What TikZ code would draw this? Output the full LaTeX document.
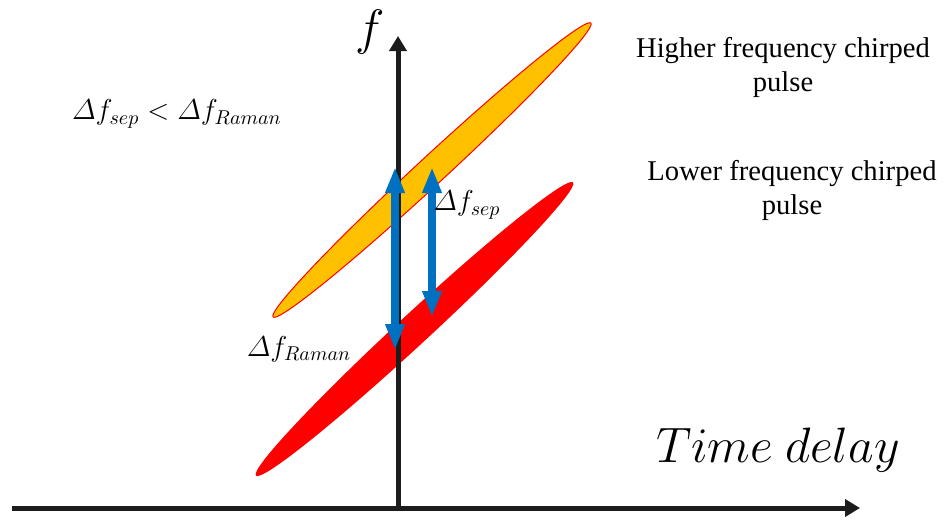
\documentclass[tikz,border=0pt]{standalone}
\usepackage{amsmath,amssymb}
\usepackage{fontspec}
\setmainfont{Liberation Serif}
\usetikzlibrary{arrows.meta,positioning}
\definecolor{pulseorange}{HTML}{FFC000}
\definecolor{pulsered}{HTML}{FF0000}
\definecolor{sepblue}{HTML}{0070C0}
\definecolor{axisblack}{HTML}{1C1C1C}

\begin{document}
\begin{tikzpicture}[
  x=0.5pt, y=-0.5pt,
  axis/.style={-{Triangle[length=7.5pt, width=8.5pt]}, line width=2.5pt, draw=axisblack},
  gap/.style={{Triangle[length=13pt, width=9pt]}-{Triangle[length=13pt, width=9pt]}, line width=4pt, draw=sepblue},
  pulse/.style={line width=0.5pt},
  txt/.style={font=\fontsize{14.3}{17}\selectfont, align=center, inner sep=0pt},
  mth/.style={font=\fontsize{14}{16}\selectfont, inner sep=0pt},
  big/.style={font=\fontsize{24}{28}\selectfont, inner sep=0pt},
]
  \useasboundingbox (0,0) rectangle (946,521);

  % pulses
  \coordinate (hic) at (432,170);
  \coordinate (loc) at (414.5,329);
  \fill[pulsered, rotate around={42.76:(loc)}] (loc) ellipse [x radius=216, y radius=15.5];
  \draw[pulse, draw=pulsered, fill=pulseorange, rotate around={42.76:(hic)}] (hic) ellipse [x radius=216.5, y radius=14];

  % axes
  \coordinate (o) at (398,508);
  \coordinate (xl) at (12,508);
  \coordinate (xr) at (860,508);
  \coordinate (yt) at (398,36);
  \draw[axis] (xl) -- (xr);
  \draw[axis] (o) -- (yt);

  % frequency gaps
  \coordinate (rt) at (395,167);
  \coordinate (rb) at (395,350);
  \coordinate (st) at (432,167);
  \coordinate (sb) at (432,317);
  \draw[gap] (rt) -- (rb);
  \draw[gap] (st) -- (sb);

  % labels
  \node[big] (flbl) at (370,32) {$f$};
  \node[big] (tlbl) at (778,450) {$Time\ delay$};
  \node[mth] (cmp) at (177,114) {$\varDelta f_{sep} < \varDelta f_{Raman}$};
  \node[mth] (sepl) at (467,205) {$\varDelta f_{sep}$};
  \node[mth] (ramanl) at (299,349) {$\varDelta f_{Raman}$};
  \node[txt] (hi) at (783,67) {Higher frequency chirped\\pulse};
  \node[txt] (lo) at (792,190) {Lower frequency chirped\\pulse};
\end{tikzpicture}
\end{document}
